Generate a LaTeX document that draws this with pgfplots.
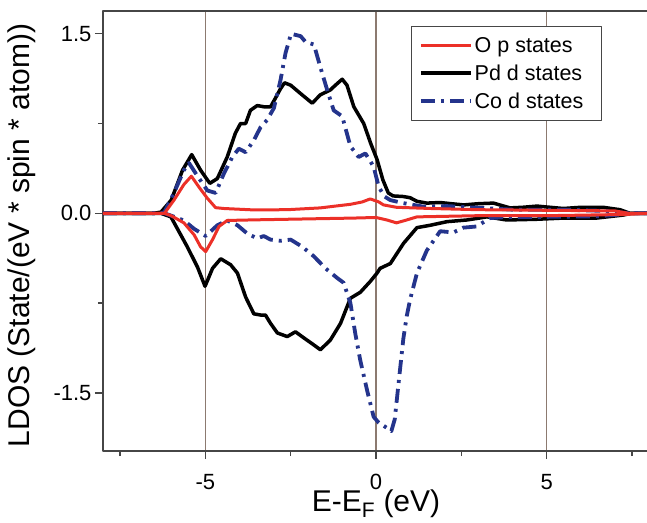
\documentclass[border=0pt]{standalone}
\usepackage{fontspec}
\setmainfont{Liberation Sans}
\usepackage{pgfplots}
\pgfplotsset{compat=1.18}

\definecolor{opred}{RGB}{236,48,40}
\definecolor{codblue}{RGB}{36,52,140}
\definecolor{framegray}{RGB}{70,70,70}
\definecolor{gridbrown}{RGB}{140,122,112}

\begin{document}
\begin{tikzpicture}
\begin{axis}[
    scale only axis,
    width=546pt, height=440pt,
    xmin=-8, xmax=8, ymin=-1.986, ymax=1.69,
    xtick={-5,0,5},
    minor xtick={-7.5,-2.5,2.5,7.5},
    ytick={-1.5,0,1.5},
    minor ytick={-0.75,0.75},
    yticklabel style={/pgf/number format/.cd, fixed, fixed zerofill, precision=1},
    /pgf/number format/assume math mode=true,
    tick pos=left,
    tick align=outside,
    major tick length=8pt,
    minor tick length=5pt,
    tick style={line width=1.4pt, color=framegray},
    axis line style={line width=1.6pt, color=framegray},
    ticklabel style={font=\fontsize{22}{26}\selectfont},
    xticklabel style={yshift=-12pt},
    xmajorgrids,
    major grid style={line width=1.1pt, color=gridbrown},
    xlabel={E-E\textsubscript{F} (eV)},
    ylabel={LDOS (State/(eV * spin * atom))},
    label style={font=\fontsize{30}{34}\selectfont},
    xlabel style={at={(axis description cs:0.5,0)}, anchor=north, yshift=-35pt},
    ylabel style={at={(axis description cs:-0.148,0.49)}, anchor=center},
    legend style={at={(axis description cs:0.914,0.967)}, anchor=north east,
        draw=framegray, line width=1.2pt, font=\fontsize{21.5}{24}\selectfont,
        inner xsep=7pt, inner ysep=9pt, row sep=7pt, cells={anchor=west}},
    legend image code/.code={\draw[#1] (0pt,0pt) -- (50pt,0pt);},
    line join=round,
]
\addlegendimage{opred, line width=3pt}
\addlegendentry{O p states\hspace*{9pt}}
\addlegendimage{black, line width=3.5pt}
\addlegendentry{Pd d states\hspace*{9pt}}
\addlegendimage{codblue, line width=3.8pt, dash pattern=on 14pt off 6pt on 3pt off 6pt}
\addlegendentry{Co d states\hspace*{9pt}}

% Pd d states, spin up
\addplot[black, line width=3.5pt, forget plot] coordinates {
(-8,0) (-6.5,0) (-6.3,0.01) (-6.0,0.11) (-5.67,0.36) (-5.40,0.49) (-5.14,0.36)
(-4.87,0.25) (-4.65,0.29) (-4.36,0.47) (-4.12,0.67) (-3.97,0.75) (-3.82,0.75)
(-3.68,0.86) (-3.48,0.90) (-3.29,0.89) (-3.09,0.89) (-2.97,0.95) (-2.80,1.04)
(-2.68,1.09) (-2.50,1.07) (-2.21,1.00) (-1.87,0.92) (-1.63,0.99) (-1.34,1.03)
(-1.19,1.07) (-0.99,1.12) (-0.85,1.07) (-0.65,0.89) (-0.36,0.75) (-0.15,0.58)
(0.03,0.45) (0.2,0.28) (0.36,0.17) (0.5,0.145) (0.8,0.14) (1.0,0.13) (1.2,0.10)
(1.49,0.085) (1.88,0.09) (2.2,0.08) (2.57,0.07) (3.0,0.08) (3.44,0.085) (3.93,0.045)
(4.3,0.05) (4.72,0.06) (5.1,0.05) (5.49,0.04) (6.0,0.05) (6.65,0.05) (7.15,0.03)
(7.44,0.0) (8,0)};
% Pd d states, spin down
\addplot[black, line width=3.5pt, forget plot] coordinates {
(-8,0) (-6.3,0) (-6.01,-0.03) (-5.53,-0.28) (-5.23,-0.45) (-5.01,-0.61) (-4.79,-0.46)
(-4.55,-0.38) (-4.26,-0.43) (-4.06,-0.50) (-3.82,-0.70) (-3.58,-0.84) (-3.38,-0.85)
(-3.24,-0.85) (-3.09,-0.92) (-2.89,-1.00) (-2.60,-1.03) (-2.36,-0.99) (-2.12,-1.04)
(-1.87,-1.09) (-1.63,-1.14) (-1.34,-1.06) (-1.04,-0.92) (-0.75,-0.71) (-0.46,-0.66)
(-0.17,-0.57) (0.03,-0.50) (0.12,-0.46) (0.42,-0.42) (0.81,-0.25) (1.20,-0.12)
(1.59,-0.10) (2.08,-0.07) (2.66,-0.056) (3.25,-0.03) (3.83,-0.056) (4.71,-0.05)
(5.49,-0.04) (6.46,-0.04) (7.24,-0.015) (7.5,0) (8,0)};

% Co d states, spin up
\addplot[codblue, line width=3.8pt, dash pattern=on 14pt off 6pt on 3pt off 6pt, forget plot] coordinates {
(-8,0) (-6.3,0) (-6.2,0.01) (-5.92,0.17) (-5.63,0.36) (-5.48,0.42) (-5.23,0.31)
(-4.94,0.19) (-4.70,0.17) (-4.46,0.33) (-4.21,0.47) (-4.02,0.54) (-3.82,0.51)
(-3.58,0.61) (-3.38,0.72) (-3.19,0.78) (-2.99,0.88) (-2.80,1.11) (-2.65,1.34)
(-2.49,1.50) (-2.21,1.48) (-2.06,1.43) (-1.82,1.41) (-1.63,1.22) (-1.43,1.03)
(-1.24,0.86) (-0.99,0.81) (-0.75,0.56) (-0.51,0.47) (-0.31,0.50) (-0.07,0.39)
(0.08,0.22) (0.25,0.14) (0.42,0.11) (0.80,0.085) (1.39,0.055) (2.08,0.06)
(3.05,0.045) (4.0,0.03) (5.5,0.03) (6.7,0.02) (7.4,0) (8,0)};
% Co d states, spin down
\addplot[codblue, line width=3.8pt, dash pattern=on 14pt off 6pt on 3pt off 6pt, forget plot] coordinates {
(-8,0) (-6.2,0) (-6.0,-0.02) (-5.63,-0.06) (-5.33,-0.13) (-4.99,-0.19) (-4.65,-0.10)
(-4.36,-0.06) (-4.06,-0.10) (-3.77,-0.17) (-3.48,-0.21) (-3.29,-0.19) (-3.09,-0.22)
(-2.80,-0.23) (-2.50,-0.22) (-2.16,-0.28) (-1.82,-0.36) (-1.48,-0.46) (-1.14,-0.54)
(-0.95,-0.58) (-0.75,-0.75) (-0.61,-1.00) (-0.46,-1.23) (-0.26,-1.48) (-0.07,-1.70)
(0.08,-1.75) (0.25,-1.78) (0.45,-1.82) (0.55,-1.72) (0.65,-1.45) (0.8,-1.05)
(0.9,-0.86) (1.0,-0.72) (1.2,-0.5) (1.49,-0.31) (1.88,-0.15) (2.27,-0.16) (2.56,-0.12)
(2.95,-0.11) (3.34,-0.04) (3.93,-0.03) (5.0,-0.03) (6.46,-0.025) (7.2,-0.01) (7.5,0) (8,0)};

% O p states, spin up
\addplot[opred, line width=3pt, forget plot] coordinates {
(-8,0) (-6.2,0) (-5.92,0.11) (-5.63,0.24) (-5.41,0.31) (-5.19,0.22) (-4.94,0.125)
(-4.70,0.047) (-4.46,0.04) (-3.58,0.028) (-2.60,0.03) (-1.63,0.045) (-1.34,0.055)
(-0.75,0.075) (-0.4,0.095) (-0.17,0.12) (0.08,0.095) (0.22,0.07) (0.6,0.05)
(1.6,0.04) (3.0,0.03) (5.0,0.025) (7.0,0.02) (7.4,0) (8,0)};
% O p states, spin down
\addplot[opred, line width=3pt, forget plot] coordinates {
(-8,0) (-6.2,0) (-6.0,-0.02) (-5.63,-0.08) (-5.33,-0.18) (-5.14,-0.28) (-4.99,-0.32)
(-4.79,-0.22) (-4.60,-0.11) (-4.36,-0.06) (-3.58,-0.055) (-2.60,-0.05) (-1.63,-0.045)
(-0.65,-0.04) (0.0,-0.035) (0.32,-0.056) (0.6,-0.08) (0.85,-0.06) (1.2,-0.03)
(3,-0.02) (5,-0.02) (7.3,-0.01) (8,0)};
\end{axis}
\pgfresetboundingbox
\path[use as bounding box] (-103pt,-71pt) rectangle (544pt,451pt);
\end{tikzpicture}
\end{document}
